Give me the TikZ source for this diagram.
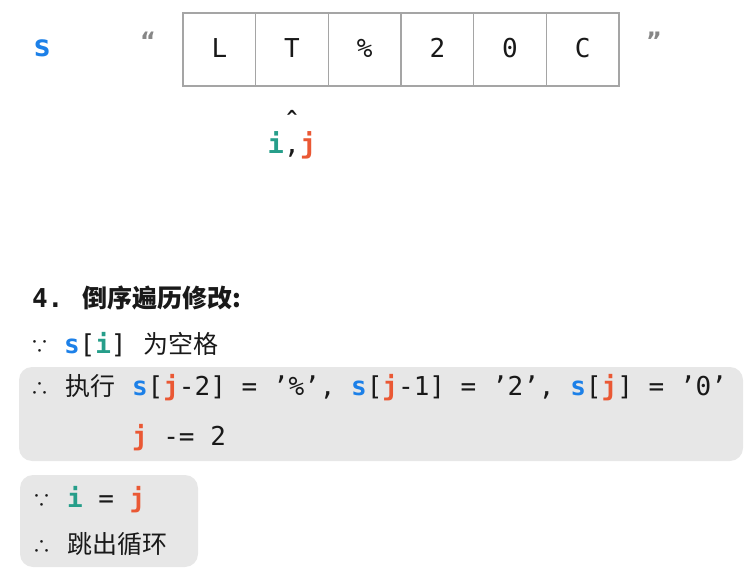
\documentclass[tikz,border=0pt]{standalone}
\usepackage{fontspec}
\setmainfont{DejaVu Sans}
\setmonofont{DejaVu Sans Mono}
\newfontfamily\cjk{Noto Sans CJK SC}
\definecolor{sblue}{RGB}{28,128,232}
\definecolor{iteal}{RGB}{38,158,138}
\definecolor{jorange}{RGB}{234,88,52}
\definecolor{boxgray}{RGB}{231,231,231}
\definecolor{cellgray}{RGB}{165,165,165}
\definecolor{quotegray}{RGB}{135,135,135}
\definecolor{ink}{RGB}{25,25,25}
\newcommand{\sv}{\textcolor{sblue}{\textbf{s}}}
\newcommand{\iv}{\textcolor{iteal}{\textbf{i}}}
\newcommand{\jv}{\textcolor{jorange}{\textbf{j}}}
\begin{document}
\begin{tikzpicture}[x=1pt,y=-1pt,
  every node/.style={inner sep=0pt,outer sep=0pt,text=ink},
  code/.style={anchor=base west,font=\fontsize{26}{30}\selectfont\ttfamily},
  han/.style={anchor=base west,font=\fontsize{25}{30}\selectfont\cjk},
  sym/.style={anchor=base,font=\fontsize{19}{24}\selectfont\cjk},
  cell/.style={minimum width=72.67pt,minimum height=73pt,anchor=north west},
  cellline/.style={draw=cellgray,line width=1.1pt},
  celltxt/.style={anchor=base,font=\fontsize{26}{30}\selectfont\ttfamily},
  quot/.style={anchor=center,text=quotegray,font=\fontsize{24}{24}\selectfont\bfseries},
  graybox/.style={fill=boxgray,rounded corners=13pt}
]
\useasboundingbox (0,0) rectangle (752,577);

% array
\foreach \c [count=\m from 1] in {L,T,\%,2,0,C}{
  \pgfmathtruncatemacro{\n}{\m-1}
  \node[cell] (c\n) at (183+72.67*\n,13) {};
  \node[celltxt] (t\n) at (183+72.67*\n+36.33,58) {\c};
}
\draw[cellline] (c0.north west) rectangle (c5.south east);
\foreach \n in {0,...,4}{
  \draw[cellline] (c\n.north east) -- (c\n.south east);
}
\node[code,font=\fontsize{30}{30}\selectfont\ttfamily] (slabel) at (33,57) {\sv};
\node[quot] (lq) at (148,41) {“};
\node[quot] (rq) at (654,41) {”};
\node[anchor=base,font=\fontsize{18}{20}\selectfont\ttfamily\bfseries] (caret) at (292,124) {\char"5E};
\node[celltxt,font=\fontsize{27}{30}\selectfont\ttfamily] (ij) at (292,154) {\iv,\jv};

% heading
\node[code] (h4) at (32,308) {\textbf{4.}};
\node[han,font=\fontsize{25}{30}\selectfont\cjk\bfseries] (h) at (82,308) {倒序遍历修改:};

% because s[i] is space
\node[sym] (b1) at (40,353) {∵};
\node[code] (b1c) at (64,353) {\sv[\iv]};
\node[han] (b1t) at (143,353) {为空格};

% box 1
\fill[graybox] (19,367) rectangle (743,461);
\node[sym] (t1) at (40,395) {∴};
\node[han] (t1t) at (65,395) {执行};
\node[code] (t1c) at (132,395) {\sv[\jv-2] = ’\%’, \sv[\jv-1] = ’2’, \sv[\jv] = ’0’};
\node[code] (t2c) at (132,445) {\jv{} -= 2};

% box 2
\fill[graybox] (20,475) rectangle (198,567);
\node[sym] (b2) at (42,507) {∵};
\node[code] (b2c) at (67,507) {\iv{} = \jv};
\node[sym] (t3) at (42,553) {∴};
\node[han] (t3t) at (67,553) {跳出循环};
\end{tikzpicture}
\end{document}
